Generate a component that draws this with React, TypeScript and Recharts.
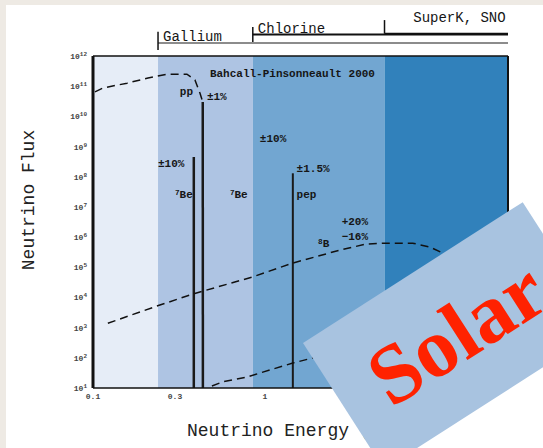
import React from 'react';
import { ComposedChart, Line, XAxis, YAxis, ReferenceArea, ReferenceLine, ReferenceDot } from 'recharts';

const MONO = '"Liberation Mono", "DejaVu Sans Mono", monospace';

// detector sensitivity bands (MeV)
const bandEdges = [0.1, 0.239, 0.851, 4.97, 26];
const bandColors = ['#e6edf7', '#aec4e3', '#72a6d1', '#3181bb'];

const energyTicks = [0.1, 0.3, 1, 3, 10];
const fluxTicks = [1e1, 1e2, 1e3, 1e4, 1e5, 1e6, 1e7, 1e8, 1e9, 1e10, 1e11, 1e12];

// spectra: E in MeV, F = flux
const ppCurve = [
  { E: 0.1027, F: 6.5e10 },
  { E: 0.114, F: 8.7e10 },
  { E: 0.158, F: 1.26e11 },
  { E: 0.209, F: 1.86e11 },
  { E: 0.27, F: 2.5e11 },
  { E: 0.352, F: 2.5e11 },
  { E: 0.392, F: 1.6e11 },
  { E: 0.419, F: 5.9e10 },
  { E: 0.435, F: 3e10 },
];
const ppEndpoint = [{ E: 0.435, F: 3e10 }, { E: 0.436, F: 10 }];
const be7Line = [{ E: 0.386, F: 4.5e8 }, { E: 0.386, F: 10 }];
const pepLine = [{ E: 1.455, F: 1.3e8 }, { E: 1.455, F: 10 }];
const b8Curve = [
  { E: 0.122, F: 1.4e3 },
  { E: 0.245, F: 5.6e3 },
  { E: 0.381, F: 1.3e4 },
  { E: 0.85, F: 4.8e4 },
  { E: 1.455, F: 1.38e5 },
  { E: 2.73, F: 3.7e5 },
  { E: 3.9, F: 5.9e5 },
  { E: 5.1, F: 6.3e5 },
  { E: 7.25, F: 6.3e5 },
  { E: 9.1, F: 4.7e5 },
  { E: 10.8, F: 3e5 },
  { E: 13, F: 8e4 },
  { E: 15, F: 8e3 },
];
const hepCurve = [
  { E: 0.492, F: 11.7 },
  { E: 0.57, F: 16 },
  { E: 0.786, F: 23 },
  { E: 0.93, F: 31 },
  { E: 1.455, F: 67 },
  { E: 2.0, F: 107 },
  { E: 2.5, F: 160 },
];

const detectorNames = ['Gallium', 'Chlorine', 'SuperK, SNO'];
const detectorThresholds = [0.239, 0.851, 4.97];

const annotations = [
  { E: 0.479, F: 2.0e11, text: 'Bahcall-Pinsonneault 2000' },
  { E: 0.32, F: 5.1e10, text: 'pp' },
  { E: 0.46, F: 3.5e10, text: '±1%' },
  { E: 0.239, F: 2.1e8, text: '±10%' },
  { E: 0.3, F: 2.0e7, text: 'Be', sup: '7' },
  { E: 0.626, F: 2.0e7, text: 'Be', sup: '7' },
  { E: 0.935, F: 1.4e9, text: '±10%' },
  { E: 1.53, F: 1.45e8, text: '±1.5%' },
  { E: 1.53, F: 2.0e7, text: 'pep' },
  { E: 2.8, F: 2.5e6, text: '+20%' },
  { E: 2.8, F: 7.9e5, text: '−16%' },
  { E: 2.04, F: 4.7e5, text: 'B', sup: '8' },
];

const p10 = (v: number) => Math.pow(10, v);

function FluxTick({ x, y, payload }: any) {
  const exp = Math.round(Math.log10(payload.value));
  return (
    <text x={x} y={y} dy={3} textAnchor="end" fontFamily={MONO} fontWeight="bold" fontSize={8} fill="#444">
      10<tspan dy={-3} fontSize={6}>{exp}</tspan>
    </text>
  );
}

function textAt(text: string, sup: string | undefined, size: number, bold = true) {
  return (p: any) => {
    const vb = p.viewBox;
    return (
      <text x={vb.x + vb.width / 2} y={vb.y + vb.height / 2} fontFamily={MONO} fontSize={size} fontWeight={bold ? 'bold' : 'normal'} fill="#161616">
        {sup ? <tspan fontSize={size * 0.7} dy={-3}>{sup}</tspan> : null}
        {sup ? <tspan dy={3}>{text}</tspan> : text}
      </text>
    );
  };
}

const axisProps = {
  type: 'number' as const,
  scale: 'log' as const,
  allowDataOverflow: true,
};

export default function App() {
  const bracketLine = [p10(12.43), p10(12.71), p10(12.74)];
  const bracketTop = [p10(12.8), p10(12.96), p10(13.19)];
  const bracketBottom = [p10(12.2), p10(12.46), p10(12.74)];
  const bracketText = [p10(12.5), p10(12.76), p10(13.13)];
  const textOffset = [1.07, 1.07, 1.47];

  return (
    <div style={{ position: 'absolute', left: 0, top: 0, width: 543, height: 448, overflow: 'hidden', background: '#eeeae4' }}>
      <div style={{ position: 'absolute', left: 6, top: 5, right: 0, bottom: 0, background: '#ffffff' }} />
      <div style={{ position: 'absolute', left: 0, top: 0 }}>
        <ComposedChart width={543} height={448} margin={{ top: 56, right: 35, bottom: 0, left: 0 }}>
          <XAxis
            {...axisProps}
            dataKey="E"
            domain={[0.1, 26]}
            ticks={energyTicks}
            height={60}
            tickLine={false}
            tickSize={0}
            tickMargin={5}
            tick={{ fontSize: 8, fontFamily: MONO, fontWeight: 'bold', fill: '#444' }}
            axisLine={{ stroke: '#111', strokeWidth: 1.5 }}
            label={{
              content: (p: any) => (
                <text x={p.viewBox.x + 94} y={p.viewBox.y + 48} fontFamily={MONO} fontSize={18} fill="#222">
                  Neutrino Energy (MeV)
                </text>
              ),
            }}
          />
          <XAxis {...axisProps} xAxisId="bin" dataKey="E" domain={[0.1, 26]} ticks={energyTicks} mirror tick={false} axisLine={false} tickSize={5} stroke="#111" />
          <XAxis {...axisProps} xAxisId="top" orientation="top" dataKey="E" domain={[0.1, 26]} ticks={energyTicks} mirror tick={false} tickSize={4} stroke="#111" axisLine={{ stroke: '#111', strokeWidth: 1.5 }} />
          <YAxis
            {...axisProps}
            domain={[10, 1e12]}
            ticks={fluxTicks}
            width={93}
            tickLine={false}
            tickSize={4}
            tickMargin={2}
            tick={<FluxTick />}
            axisLine={{ stroke: '#111', strokeWidth: 3 }}
            label={{
              content: (p: any) => (
                <text
                  x={29}
                  y={p.viewBox.y + 144}
                  transform={`rotate(-90 29 ${p.viewBox.y + 144})`}
                  textAnchor="middle"
                  dominantBaseline="central"
                  fontFamily={MONO}
                  fontSize={18}
                  fill="#222"
                >
                  Neutrino Flux
                </text>
              ),
            }}
          />
          <YAxis {...axisProps} yAxisId="lin" domain={[10, 1e12]} ticks={fluxTicks} mirror tick={false} axisLine={false} tickSize={5} stroke="#111" />
          <YAxis {...axisProps} yAxisId="rin" orientation="right" domain={[10, 1e12]} ticks={fluxTicks} mirror tick={false} tickSize={5} stroke="#111" axisLine={{ stroke: '#111', strokeWidth: 2 }} />

          {bandColors.map((c, i) => (
            <ReferenceArea key={c} x1={bandEdges[i]} x2={bandEdges[i + 1]} fill={c} fillOpacity={1} stroke="none" />
          ))}

          {detectorNames.map((name, i) => (
            <ReferenceLine
              key={name + 'l'}
              ifOverflow="visible"
              stroke={i === 0 ? '#666' : '#111'}
              strokeWidth={i === 0 ? 1.5 : 2}
              segment={[{ x: detectorThresholds[i], y: bracketLine[i] }, { x: 26, y: bracketLine[i] }]}
            />
          ))}
          {detectorNames.map((name, i) => (
            <ReferenceLine
              key={name + 't'}
              ifOverflow="visible"
              stroke="#111"
              strokeWidth={1.5}
              segment={[{ x: detectorThresholds[i], y: bracketTop[i] }, { x: detectorThresholds[i], y: bracketBottom[i] }]}
            />
          ))}
          {detectorNames.map((name, i) => (
            <ReferenceDot
              key={name}
              x={detectorThresholds[i] * textOffset[i]}
              y={bracketText[i]}
              r={0}
              fill="none"
              stroke="none"
              ifOverflow="visible"
              label={textAt(name, undefined, 14, false)}
            />
          ))}

          <Line data={ppCurve} dataKey="F" type="linear" stroke="#111" strokeWidth={1.5} strokeDasharray="8 5" dot={false} isAnimationActive={false} />
          <Line data={ppEndpoint} dataKey="F" type="linear" stroke="#1a1a1a" strokeWidth={2.5} dot={false} isAnimationActive={false} />
          <Line data={be7Line} dataKey="F" type="linear" stroke="#1a1a1a" strokeWidth={2.5} dot={false} isAnimationActive={false} />
          <Line data={pepLine} dataKey="F" type="linear" stroke="#1a1a1a" strokeWidth={2} dot={false} isAnimationActive={false} />
          <Line data={b8Curve} dataKey="F" type="linear" stroke="#111" strokeWidth={1.5} strokeDasharray="8 5" dot={false} isAnimationActive={false} />
          <Line data={hepCurve} dataKey="F" type="linear" stroke="#111" strokeWidth={1.5} strokeDasharray="8 5" dot={false} isAnimationActive={false} />

          {annotations.map((a, i) => (
            <ReferenceDot key={i} x={a.E} y={a.F} r={0} fill="none" stroke="none" ifOverflow="visible" label={textAt(a.text, a.sup, 11)} />
          ))}
        </ComposedChart>
      </div>
      <div
        style={{
          position: 'absolute',
          left: 303,
          top: 343,
          width: 261,
          height: 150,
          background: '#a8c3e0',
          transform: 'rotate(-32.66deg)',
          transformOrigin: '0 0',
          display: 'flex',
          alignItems: 'center',
          justifyContent: 'center',
          color: '#ff2200',
          fontFamily: '"Liberation Serif", serif',
          fontWeight: 'bold',
          fontSize: 84,
          lineHeight: 1,
          paddingLeft: 8,
          boxSizing: 'border-box',
        }}
      >
        Solar
      </div>
    </div>
  );
}
